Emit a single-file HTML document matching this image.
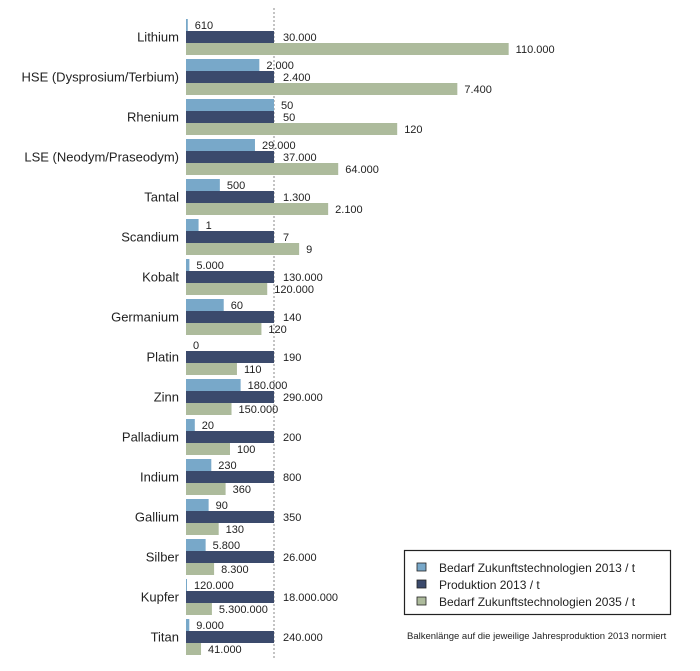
<!DOCTYPE html>
<html><head><meta charset="utf-8"><style>
body{margin:0;background:#fff;width:700px;height:671px;overflow:hidden;font-family:"Liberation Sans",sans-serif}
svg{display:block}
</style></head><body>
<svg id="chart" width="700" height="671" xmlns="http://www.w3.org/2000/svg">
<line x1="274" y1="8" x2="274" y2="660" stroke="#888" stroke-width="1" stroke-dasharray="2,2"/>
<g id="bars"></g>
<g>
<rect x="404.5" y="550.5" width="266" height="64" fill="#fff" stroke="#222" stroke-width="1.2"/>
<rect x="417" y="563" width="9" height="8" fill="#78a8c9" stroke="#222" stroke-width="0.8"/>
<text x="439" y="572" font-size="12" fill="#222">Bedarf Zukunftstechnologien 2013  /  t</text>
<rect x="417" y="580" width="9" height="8" fill="#3b4a6c" stroke="#222" stroke-width="0.8"/>
<text x="439" y="589" font-size="12" fill="#222">Produktion 2013  /  t</text>
<rect x="417" y="597" width="9" height="8" fill="#adbb9c" stroke="#222" stroke-width="0.8"/>
<text x="439" y="606" font-size="12" fill="#222">Bedarf Zukunftstechnologien 2035  /  t</text>
</g>
<text x="407" y="639" font-size="9.5" fill="#222">Balkenlänge auf die jeweilige Jahresproduktion 2013 normiert</text>
</svg>
<script>
const categories=["Lithium","HSE (Dysprosium/Terbium)","Rhenium","LSE (Neodym/Praseodym)","Tantal","Scandium","Kobalt","Germanium","Platin","Zinn","Palladium","Indium","Gallium","Silber","Kupfer","Titan"];
const demand2013=[610,2000,50,29000,500,1,5000,60,0,180000,20,230,90,5800,120000,9000];
const production2013=[30000,2400,50,37000,1300,7,130000,140,190,290000,200,800,350,26000,18000000,240000];
const demand2035=[110000,7400,120,64000,2100,9,120000,120,110,150000,100,360,130,8300,5300000,41000];
const x0=186, unit=88, firstY=37, step=40;
function xLen(v,p){return v/p*unit;}
function yCenter(i){return firstY+i*step;}
function fmt(v){return String(v).replace(/\B(?=(\d{3})+(?!\d))/g,".");}
const ns="http://www.w3.org/2000/svg";
const g=document.getElementById("bars");
function mk(tag,attrs){const e=document.createElementNS(ns,tag);for(const k in attrs)e.setAttribute(k,attrs[k]);g.appendChild(e);return e;}
const series=[{d:demand2013,off:-18,c:"#78a8c9",n:"demand-2013"},{d:production2013,off:-6,c:"#3b4a6c",n:"production-2013"},{d:demand2035,off:6,c:"#adbb9c",n:"demand-2035"}];
categories.forEach((cat,i)=>{
  const c=yCenter(i);
  const t=mk("text",{x:179,y:c+4.5,"font-size":13,"text-anchor":"end",fill:"#222"});
  
  
  t.textContent=cat;
  series.forEach(s=>{
    let w=xLen(s.d[i],production2013[i]);
    if(s.d[i]>0&&w<1)w=1;
    const r=mk("rect",{x:x0,y:c+s.off,width:w,height:12,fill:s.c});
    
    
    const l=mk("text",{x:x0+w+(s.n==="production-2013"?9:7),y:c+s.off+10,"font-size":11,fill:"#222"});
    
    
    l.textContent=fmt(s.d[i]);
  });
});
</script>
</body></html>
